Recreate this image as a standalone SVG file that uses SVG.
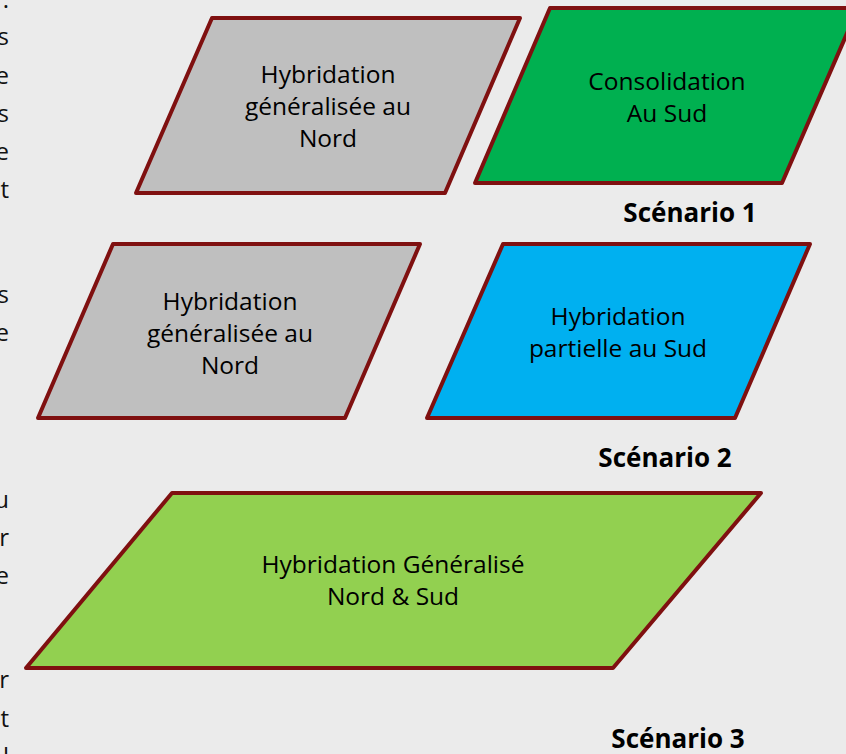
<svg xmlns="http://www.w3.org/2000/svg" width="846" height="754" viewBox="0 0 846 754">
<style>
.bg{fill:#EBEBEB}
.shape{stroke:#7F1010;stroke-width:4;stroke-linejoin:round}
.gray{fill:#BFBFBF}
.green{fill:#00B050}
.blue{fill:#00B0F0}
.lime{fill:#92D050}
.lbl{font-family:"Open Sans","Liberation Sans",sans-serif;font-size:24.5px;fill:#000;text-anchor:middle}
.sc{font-family:"Open Sans","Liberation Sans",sans-serif;font-size:26px;font-weight:bold;fill:#000;text-anchor:middle}
.side{font-family:"Open Sans","Liberation Sans",sans-serif;font-size:24px;fill:#111;text-anchor:end}
</style>
<rect class="bg" x="0" y="0" width="846" height="754"/>
<g id="side-text">
<text class="side" x="9" y="8">.</text>
<text class="side" x="9" y="45">s</text>
<text class="side" x="9" y="84">e</text>
<text class="side" x="9" y="122">s</text>
<text class="side" x="9" y="160">e</text>
<text class="side" x="9" y="198">t</text>
<text class="side" x="9" y="303">s</text>
<text class="side" x="9" y="341">e</text>
<text class="side" x="9" y="508">u</text>
<text class="side" x="9" y="546">r</text>
<text class="side" x="9" y="584">e</text>
<text class="side" x="9" y="688">r</text>
<text class="side" x="9" y="727">t</text>
<text class="side" x="9" y="765">l</text>
</g>
<g id="node-nord-1">
<polygon class="shape gray" points="212,18 520,18 445,193 136,193"/>
<text class="lbl" x="328" y="83">Hybridation</text>
<text class="lbl" x="328" y="115">généralisée au</text>
<text class="lbl" x="328" y="147">Nord</text>
</g>
<g id="node-sud-1">
<polygon class="shape green" points="550,8 858,8 782,183 475,183"/>
<text class="lbl" x="667" y="90">Consolidation</text>
<text class="lbl" x="667" y="122">Au Sud</text>
</g>
<g id="label-s1"><text class="sc" x="690" y="222">Scénario 1</text></g>
<g id="node-nord-2">
<polygon class="shape gray" points="113,244 420,244 345,418 38,418"/>
<text class="lbl" x="230" y="310">Hybridation</text>
<text class="lbl" x="230" y="342">généralisée au</text>
<text class="lbl" x="230" y="374">Nord</text>
</g>
<g id="node-sud-2">
<polygon class="shape blue" points="503,244 810,244 735,418 427,418"/>
<text class="lbl" x="618" y="325">Hybridation</text>
<text class="lbl" x="618" y="357">partielle au Sud</text>
</g>
<g id="label-s2"><text class="sc" x="665" y="467">Scénario 2</text></g>
<g id="node-all-3">
<polygon class="shape lime" points="172,493 761,493 613,668 26,668"/>
<text class="lbl" x="393" y="573">Hybridation Généralisé</text>
<text class="lbl" x="393" y="605">Nord &amp; Sud</text>
</g>
<g id="label-s3"><text class="sc" x="678" y="748">Scénario 3</text></g>
<g id="connectors"></g>
</svg>
